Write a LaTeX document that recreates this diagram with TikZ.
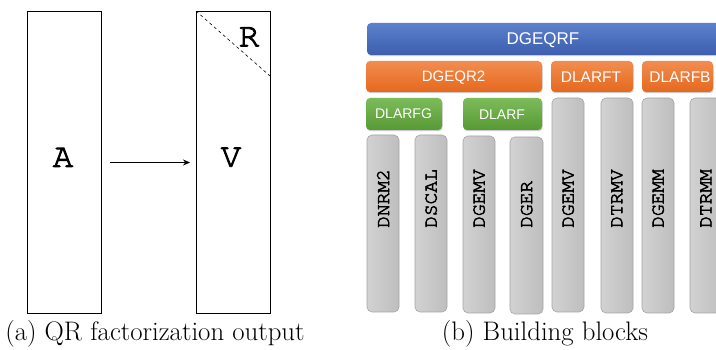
\documentclass[tikz,border=0pt]{standalone}
\usepackage{fontspec}
\newfontfamily\boxsans{Liberation Sans}
\newcommand{\courfont}{\fontencoding{T1}\fontfamily{pcr}\fontseries{m}\fontshape{n}\selectfont}
\newcommand{\heavier}[2]{\special{pdf:code q 2 Tr #1 w}#2\special{pdf:code Q}}
\usetikzlibrary{arrows.meta,shadows}
\definecolor{blueT}{HTML}{5B80CC}
\definecolor{blueB}{HTML}{3D5FAE}
\definecolor{oraT}{HTML}{F28D50}
\definecolor{oraB}{HTML}{E5681D}
\definecolor{grnT}{HTML}{7DBB5A}
\definecolor{grnB}{HTML}{579A35}
\definecolor{gryL}{HTML}{D2D2D2}
\definecolor{gryR}{HTML}{BEBEBE}
\definecolor{gryE}{HTML}{A4A4A4}
\tikzset{
  mat/.style={draw, line width=0.8pt},
  lbl/.style={font=\courfont\fontsize{34}{34}\selectfont, inner sep=0pt},
  captxt/.style={font=\fontsize{26.8}{26.8}\selectfont, anchor=base, inner sep=0pt},
  cbox/.style={rounded corners=4pt, drop shadow={shadow xshift=0.6pt, shadow yshift=-1.2pt, opacity=0.35, fill=black!60}},
  bluebox/.style={cbox, top color=blueT, bottom color=blueB},
  orabox/.style={cbox, top color=oraT, bottom color=oraB},
  grnbox/.style={cbox, top color=grnT, bottom color=grnB},
  grybox/.style={rounded corners=5pt, left color=gryL, right color=gryR, draw=gryE, line width=0.6pt},
  wtxt/.style={text=white, inner sep=0pt, font=\boxsans\fontsize{15.5}{15.5}\selectfont},
  vtxt/.style={rotate=90, anchor=west, inner sep=0pt, font=\courfont\fontsize{19.5}{19.5}\selectfont},
}
\begin{document}
\begin{tikzpicture}[x=1pt, y=-1pt]
\useasboundingbox (0,0) rectangle (716,350);
\clip (0,0) rectangle (716,350);
% (a)
\draw[mat] (27,11) rectangle (101,313);
\draw[mat] (196,11) rectangle (270,313);
\coordinate (vtl) at (196,11);
\coordinate (vdr) at (270,76);
\draw[dashed, line width=0.6pt] (vtl) -- (vdr);
\node[lbl] (A) at (63,157.5) {\heavier{0.9}{A}};
\node[lbl] (V) at (231,157.5) {\heavier{0.9}{V}};
\node[lbl] (R) at (249,37) {\heavier{0.9}{R}};
\coordinate (arS) at (110,162.5);
\coordinate (arE) at (190,162.5);
\draw[-{Stealth[length=7pt,width=6pt]}, line width=0.7pt] (arS) -- (arE);
\node[captxt] (capa) at (155,341) {(a) QR factorization output};
% (b)
\path[bluebox] (367,23) rectangle (730,55);
\node[wtxt, font=\boxsans\fontsize{17}{17}\selectfont] (dgeqrf) at (543,40) {DGEQRF};
\path[orabox] (366,61) rectangle (542,92);
\node[wtxt, font=\boxsans\fontsize{15}{15}\selectfont] (dgeqr2) at (453.5,77.5) {DGEQR2};
\path[orabox] (551,61) rectangle (633,92);
\node[wtxt] (dlarft) at (591,77.5) {DLARFT};
\path[orabox] (642,61) rectangle (713,92);
\node[wtxt] (dlarfb) at (680,77.5) {DLARFB};
\path[grnbox] (366,98) rectangle (442,130);
\node[wtxt, font=\boxsans\fontsize{14}{14}\selectfont] (dlarfg) at (403.5,113.5) {DLARFG};
\path[grnbox] (463,98) rectangle (542,130);
\node[wtxt, font=\boxsans\fontsize{14}{14}\selectfont] (dlarf) at (502,115) {DLARF};
% gray columns
\path[grybox] (367,135) rectangle (399,312);
\node[vtxt] (c1) at (383,228) {\heavier{0.55}{DNRM2}};
\path[grybox] (415,135) rectangle (447,312);
\node[vtxt] (c2) at (431,228) {\heavier{0.55}{DSCAL}};
\path[grybox] (463,136) rectangle (495,313);
\node[vtxt] (c3) at (479,228) {\heavier{0.55}{DGEMV}};
\path[grybox] (510,137) rectangle (543,314);
\node[vtxt] (c4) at (526.5,228) {\heavier{0.55}{DGER}};
\path[grybox] (552,98) rectangle (584,312);
\node[vtxt] (c5) at (568,228) {\heavier{0.55}{DGEMV}};
\path[grybox] (601,98) rectangle (633,313);
\node[vtxt] (c6) at (617,228) {\heavier{0.55}{DTRMV}};
\path[grybox] (642,98) rectangle (674,313);
\node[vtxt] (c7) at (658,228) {\heavier{0.55}{DGEMM}};
\path[grybox] (690,98) rectangle (722,313);
\node[vtxt] (c8) at (706,228) {\heavier{0.55}{DTRMM}};
\node[captxt] (capb) at (545,341) {(b) Building blocks};
\end{tikzpicture}
\end{document}
